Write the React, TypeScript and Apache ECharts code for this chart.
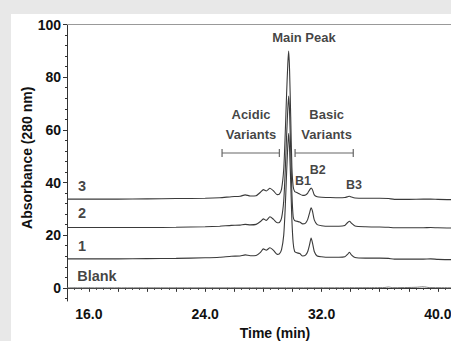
import React, { useEffect, useRef } from "react";
import * as echarts from "echarts";

// ---- Data ----
const trace1: number[][] = [
  [14.5, 11.0], [16, 11.0], [18, 11.0], [20, 11.1], [22, 11.2], [24, 11.4], [25, 11.6], [25.8, 12.0],
  [26.4, 12.1], [26.75, 12.5], [27.1, 12.2], [27.5, 12.3], [27.8, 13.5], [28.0, 14.8], [28.2, 14.3],
  [28.45, 15.2], [28.7, 14.2], [28.95, 12.7], [29.1, 12.9], [29.25, 14.5], [29.4, 20], [29.5, 30],
  [29.6, 44], [29.68, 54], [29.74, 58.7], [29.8, 53], [29.88, 40], [29.96, 26], [30.05, 17],
  [30.15, 13.8], [30.3, 13.3], [30.5, 13.0], [30.7, 12.1], [30.9, 12.4], [31.05, 13.8], [31.18, 16.5],
  [31.28, 18.9], [31.38, 17], [31.5, 13.8], [31.7, 12.1], [32.0, 11.8], [32.5, 11.6], [33.2, 11.6],
  [33.6, 11.8], [33.8, 12.8], [33.92, 13.5], [34.05, 12.5], [34.3, 11.5], [35, 11.3], [36, 11.3],
  [36.6, 11.2], [37, 10.9], [38, 10.9], [39, 10.9], [39.5, 11.0], [40, 10.8], [41, 10.7], [42, 10.6],
];
const trace2: number[][] = [
  [14.5, 22.9], [16, 22.9], [18, 22.9], [20, 22.9], [22, 23.0], [24, 23.2], [25, 23.4], [25.8, 23.7],
  [26.4, 23.8], [26.75, 24.1], [27.1, 23.9], [27.5, 24.1], [27.8, 25.2], [28.0, 26.2], [28.2, 25.6],
  [28.45, 27.0], [28.7, 26.0], [28.95, 24.7], [29.1, 24.8], [29.25, 26.5], [29.4, 33], [29.5, 44],
  [29.6, 58], [29.68, 68], [29.74, 72.8], [29.8, 67], [29.88, 52], [29.96, 36], [30.05, 27],
  [30.15, 25.5], [30.3, 25.3], [30.5, 25.0], [30.7, 24.3], [30.9, 24.6], [31.05, 26], [31.18, 28.5],
  [31.28, 30.4], [31.38, 29], [31.5, 25.8], [31.7, 24.0], [32.0, 23.6], [32.5, 23.4], [33.2, 23.4],
  [33.6, 23.7], [33.8, 24.8], [33.92, 25.3], [34.05, 24.6], [34.3, 23.5], [35, 23.2], [36, 23.1],
  [36.6, 23.0], [37, 22.8], [38, 22.8], [39, 22.8], [39.5, 22.9], [40, 22.8], [41, 22.7], [42, 22.7],
];
const trace3: number[][] = [
  [14.5, 33.7], [16, 33.7], [18, 33.7], [20, 33.8], [22, 33.9], [24, 34.0], [25, 34.2], [25.8, 34.6],
  [26.4, 34.8], [26.75, 35.3], [27.1, 34.9], [27.5, 35.0], [27.8, 36.3], [28.0, 37.3], [28.2, 36.8],
  [28.45, 37.8], [28.7, 36.8], [28.95, 35.4], [29.1, 35.6], [29.25, 37.5], [29.4, 45], [29.5, 58],
  [29.6, 74], [29.68, 85], [29.74, 89.9], [29.8, 83], [29.88, 65], [29.96, 46], [30.05, 38.5],
  [30.15, 36.6], [30.3, 36.2], [30.5, 35.6], [30.7, 35.1], [30.9, 35.3], [31.05, 36.0], [31.18, 37.2],
  [31.28, 37.9], [31.38, 37.2], [31.5, 35.3], [31.7, 34.6], [32.0, 34.4], [32.5, 34.3], [33.2, 34.2],
  [33.6, 34.3], [33.8, 34.6], [33.92, 34.8], [34.05, 34.5], [34.3, 34.1], [35, 34.0], [36, 34.0],
  [36.6, 33.9], [37, 33.6], [38, 33.6], [39, 33.7], [39.5, 33.7], [40, 33.6], [41, 33.5], [42, 33.5],
];
const blank: number[][] = [
  [14.5, 0], [20, 0], [30, 0], [35, 0.05], [36.3, 0.1], [36.6, 0.3], [36.9, 0.05], [38.5, 0.2],
  [39, 0.4], [39.4, 0.1], [42, 0],
];

// Ticks
const xMajorTicks = [16, 18, 20, 22, 24, 26, 28, 30, 32, 34, 36, 38, 40, 42];
const xLabelTicks = [16, 24, 32, 40];
const xMinorTicks = [
  14.5, 15, 15.5, 16, 16.5, 17, 17.5, 18, 18.5, 19, 19.5, 20, 20.5, 21, 21.5, 22, 22.5, 23, 23.5, 24,
  24.5, 25, 25.5, 26, 26.5, 27, 27.5, 28, 28.5, 29, 29.5, 30, 30.5, 31, 31.5, 32, 32.5, 33, 33.5, 34,
  34.5, 35, 35.5, 36, 36.5, 37, 37.5, 38, 38.5, 39, 39.5, 40, 40.5, 41, 41.5, 42,
];
const yLabelTicks = [0, 20, 40, 60, 80, 100];
const yMinorTicks = [
  -4, 0, 4, 8, 12, 16, 20, 24, 28, 32, 36, 40, 44, 48, 52, 56, 60, 64, 68, 72, 76, 80, 84, 88, 92, 96, 100,
];

// Annotations (data coordinates)
const centerLabelNames = ["Main Peak", "Acidic\nVariants", "Basic\nVariants", "B1", "B2", "B3"];
const centerLabelX = [30.79, 27.15, 32.35, 30.73, 31.74, 34.23];
const centerLabelY = [94.9, 62.0, 62.0, 40.6, 44.75, 39.05];
const traceLabelNames = ["3", "2", "1", "Blank"];
const traceLabelX = [15.25, 15.25, 15.25, 15.2];
const traceLabelY = [38.7, 28.3, 15.9, 4.5];
const bracketStart = [25.16, 30.18];
const bracketEnd = [29.1, 34.18];
const bracketY = [51.2, 51.2];

const FONT = "'Liberation Sans', Arial, Helvetica, sans-serif";

export default function App() {
  const ref = useRef<HTMLDivElement>(null);
  useEffect(() => {
    if (!ref.current) return;
    const chart = echarts.init(ref.current, undefined, { renderer: "svg" });
    const lineSeries = (data: number[][], color: string, width: number) => ({
      type: "line",
      data,
      xAxisIndex: 0,
      yAxisIndex: 0,
      showSymbol: false,
      symbol: "none",
      smooth: 0.2,
      lineStyle: { color, width },
      z: 3,
    });
    const labelStyle = {
      show: true,
      position: "inside",
      formatter: "{b}",
      fontFamily: FONT,
      fontWeight: "bold",
      color: "#111",
    };
    chart.setOption({
      animation: false,
      backgroundColor: "#e8e8e8",
      graphic: [
        {
          type: "rect",
          left: 11,
          top: 14,
          shape: { width: 470, height: 340 },
          style: { fill: "#ffffff" },
          z: -10,
          silent: true,
        },
      ],
      grid: { left: 67, top: 24.5, right: 0, bottom: 40, containLabel: false, outerBoundsMode: "none" },
      xAxis: [
        {
          type: "value",
          min: 14.5,
          max: 42,
          position: "bottom",
          axisLine: { show: true, lineStyle: { color: "#333", width: 1 } },
          axisTick: { show: true, inside: false, length: 4, customValues: xMajorTicks, lineStyle: { color: "#333" } },
          axisLabel: {
            customValues: xLabelTicks,
            formatter: (v: number) => v.toFixed(1),
            fontFamily: FONT,
            fontWeight: "bold",
            fontSize: 14,
            color: "#111",
            margin: 6,
          },
          splitLine: { show: false },
          name: "Time (min)",
          nameLocation: "middle",
          nameGap: 25,
          nameMoveOverlap: false,
          nameTextStyle: { fontFamily: FONT, fontWeight: "bold", fontSize: 14, color: "#111", padding: [0, 0, 0, 16] },
        },
        {
          type: "value",
          min: 14.5,
          max: 42,
          position: "bottom",
          axisLine: { show: false },
          axisTick: { show: true, inside: false, length: 2, customValues: xMinorTicks, lineStyle: { color: "#333" } },
          axisLabel: { show: false },
          splitLine: { show: false },
        },
        {
          type: "value",
          min: 14.5,
          max: 42,
          position: "top",
          axisLine: { show: true, lineStyle: { color: "#999", width: 1 } },
          axisTick: { show: false },
          axisLabel: { show: false },
          splitLine: { show: false },
        },
      ],
      yAxis: [
        {
          type: "value",
          min: -5,
          max: 100,
          position: "left",
          axisLine: { show: true, lineStyle: { color: "#333", width: 1 } },
          axisTick: { show: true, inside: false, length: 4, customValues: yLabelTicks, lineStyle: { color: "#333" } },
          axisLabel: {
            customValues: yLabelTicks,
            fontFamily: FONT,
            fontWeight: "bold",
            fontSize: 14,
            color: "#111",
            margin: 6,
          },
          splitLine: { show: false },
          name: "Absorbance (280 nm)",
          nameLocation: "middle",
          nameGap: 33,
          nameMoveOverlap: false,
          nameTextStyle: { fontFamily: FONT, fontWeight: "bold", fontSize: 14, color: "#111", padding: [0, 0, 0, 10] },
        },
        {
          type: "value",
          min: -5,
          max: 100,
          position: "left",
          axisLine: { show: false },
          axisTick: { show: true, inside: false, length: 2, customValues: yMinorTicks, lineStyle: { color: "#333" } },
          axisLabel: { show: false },
          splitLine: { show: false },
        },
      ],
      series: [
        lineSeries(blank, "#777", 1),
        lineSeries(trace1, "#3a3a3a", 1.1),
        lineSeries(trace2, "#3a3a3a", 1.1),
        lineSeries(trace3, "#3a3a3a", 1.1),
        {
          type: "custom",
          xAxisIndex: 0,
          yAxisIndex: 0,
          data: bracketStart.map((s, i) => [s, bracketEnd[i], bracketY[i]]),
          encode: { x: [0, 1], y: 2 },
          renderItem: (params: any, api: any) => {
            const s = api.coord([api.value(0), api.value(2)]);
            const e = api.coord([api.value(1), api.value(2)]);
            const st = { stroke: "#666", lineWidth: 1.2 };
            return {
              type: "group",
              children: [
                { type: "line", shape: { x1: s[0], y1: s[1], x2: e[0], y2: e[1] }, style: st },
                { type: "line", shape: { x1: s[0], y1: s[1] - 4, x2: s[0], y2: s[1] + 4 }, style: st },
                { type: "line", shape: { x1: e[0], y1: e[1] - 4, x2: e[0], y2: e[1] + 4 }, style: st },
              ],
            };
          },
          z: 4,
        },
        {
          type: "scatter",
          xAxisIndex: 0,
          yAxisIndex: 0,
          symbolSize: 0,
          data: centerLabelNames.map((n, i) => ({
            name: n,
            value: [centerLabelX[i], centerLabelY[i]],
            label: { fontSize: n.startsWith("B") && n.length === 2 ? 12.5 : 13, lineHeight: 20 },
          })),
          label: { ...labelStyle },
          z: 5,
        },
        {
          type: "scatter",
          xAxisIndex: 0,
          yAxisIndex: 0,
          symbolSize: 0,
          data: traceLabelNames.map((n, i) => ({ name: n, value: [traceLabelX[i], traceLabelY[i]] })),
          label: { ...labelStyle, align: "left", fontSize: 14.5 },
          z: 5,
        },
      ],
    });
    return () => chart.dispose();
  }, []);
  return <div ref={ref} style={{ position: "fixed", left: 0, top: 0, width: 467, height: 341 }} />;
}
